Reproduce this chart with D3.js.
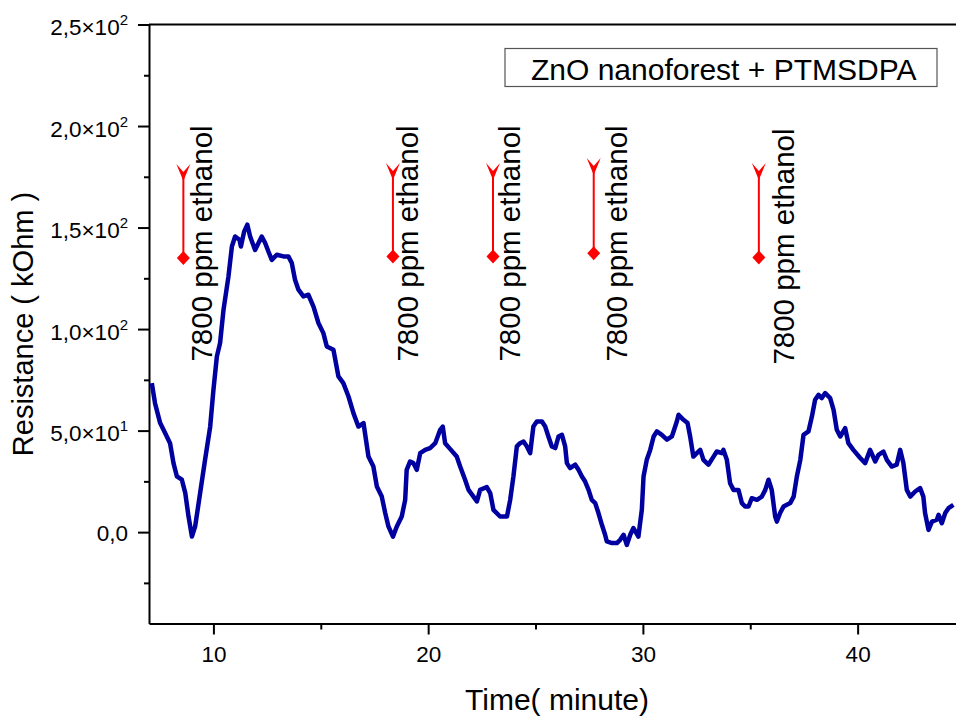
<!DOCTYPE html>
<html>
<head>
<meta charset="utf-8">
<script src="https://cdn.jsdelivr.net/npm/d3@7"></script>
<style>
  body { margin: 0; background: #fff; }
  text { font-family: "Liberation Sans", Arial, sans-serif; fill: #000; }
</style>
</head>
<body>
<div id="chart"></div>
<script>
// resistance trace (time in minutes, resistance in kOhm)
const time = [
  7.13, 7.28, 7.52, 7.75, 7.98, 8.14, 8.30, 8.53, 8.69, 8.84, 9.00, 9.15, 9.38, 9.61, 9.85,
  10.00, 10.16, 10.31, 10.47, 10.70, 10.86, 11.01, 11.21, 11.28, 11.43, 11.58, 11.71, 11.94,
  12.10, 12.25, 12.41, 12.56, 12.72, 12.95, 13.26, 13.49, 13.65, 13.80, 13.96, 14.19, 14.42,
  14.66, 14.89, 15.12, 15.28, 15.59, 15.82, 16.05, 16.29, 16.52, 16.75, 16.99, 17.22, 17.45,
  17.61, 17.84, 18.00, 18.15, 18.36, 18.54, 18.77, 18.93, 19.00, 19.16, 19.31, 19.47, 19.63,
  19.86, 20.09, 20.33, 20.56, 20.68, 20.79, 21.02, 21.33, 21.49, 21.72, 21.88, 22.11, 22.27,
  22.42, 22.73, 22.89, 23.04, 23.35, 23.67, 23.82, 23.97, 24.13, 24.28, 24.44, 24.60, 24.75,
  24.90, 25.06, 25.30, 25.45, 25.60, 25.76, 25.92, 26.07, 26.23, 26.38, 26.46, 26.61, 26.85,
  27.00, 27.16, 27.31, 27.47, 27.62, 27.78, 27.93, 28.09, 28.24, 28.32, 28.56, 28.79, 28.94,
  29.10, 29.25, 29.41, 29.56, 29.79, 29.95, 30.03, 30.18, 30.34, 30.50, 30.65, 30.88, 31.12,
  31.35, 31.58, 31.66, 31.89, 32.08, 32.20, 32.35, 32.51, 32.67, 32.82, 33.05, 33.29, 33.44,
  33.68, 33.75, 33.91, 34.06, 34.22, 34.45, 34.61, 34.76, 34.92, 35.07, 35.31, 35.54, 35.70,
  35.85, 36.00, 36.16, 36.24, 36.39, 36.55, 36.86, 37.02, 37.17, 37.33, 37.48, 37.71, 37.87,
  38.02, 38.18, 38.33, 38.49, 38.72, 38.88, 39.03, 39.19, 39.42, 39.57, 39.80, 40.12, 40.35,
  40.58, 40.82, 40.97, 41.20, 41.36, 41.59, 41.82, 41.98, 42.13, 42.29, 42.45, 42.68, 42.91,
  43.06, 43.14, 43.30, 43.46, 43.69, 43.77, 43.92, 44.08, 44.23, 44.46
];
const resistance = [
  73.4, 63.5, 53.7, 48.8, 43.8, 34.0, 27.4, 25.8, 19.2, 7.7, -2.2, 2.8, 19.2, 35.6, 52.0,
  70.0, 86.5, 93.1, 109.5, 125.9, 140.7, 145.6, 144.0, 140.7, 148.0, 151.4, 145.6, 139.0,
  142.4, 145.6, 142.4, 138.2, 134.1, 136.6, 135.8, 135.8, 132.5, 124.3, 119.4, 116.1, 116.9,
  111.1, 103.0, 98.0, 91.4, 89.8, 76.7, 73.4, 66.8, 58.6, 52.0, 53.7, 37.2, 32.3,
  22.5, 17.5, 9.4, 2.8, -2.2, 2.8, 7.7, 15.9, 30.7, 34.8, 34.0, 30.7, 38.9,
  40.5, 41.4, 43.8, 50.4, 52.0, 43.8, 41.0, 37.2, 32.3, 25.8, 20.8, 17.5, 15.1,
  20.8, 22.2, 19.2, 11.0, 7.7, 7.7, 15.9, 27.4, 42.2, 43.8, 44.6, 42.2, 38.9,
  52.0, 54.5, 54.5, 52.0, 47.1, 42.2, 41.4, 47.1, 47.9, 42.2, 34.0, 31.5, 33.2,
  30.7, 27.4, 24.9, 20.8, 15.9, 14.3, 9.4, 3.6, -1.3, -4.6, -5.4, -5.4, -3.8,
  -1.3, -6.3, -1.3, 2.0, -2.2, 11.0, 27.4, 35.6, 40.5, 47.1, 49.6, 47.9, 45.5,
  47.1, 54.5, 57.8, 55.3, 53.7, 47.1, 37.2, 38.9, 40.5, 35.6, 33.2, 37.2, 39.7,
  38.9, 40.5, 35.6, 24.1, 20.8, 20.8, 14.3, 12.6, 12.6, 16.7, 15.9, 17.5, 20.8,
  25.8, 20.8, 7.7, 5.2, 9.4, 12.6, 14.3, 17.5, 27.4, 35.6, 47.9, 49.6, 56.9,
  65.2, 67.6, 66.0, 68.5, 66.0, 60.2, 50.4, 47.1, 51.2, 43.8, 40.5, 36.5, 34.0,
  40.5, 34.8, 38.1, 39.7, 35.6, 32.3, 33.2, 40.5, 34.0, 20.8, 17.5, 20.0, 21.7,
  17.5, 9.4, 1.1, 5.2, 6.1, 8.5, 4.4, 9.4, 11.8, 13.4
];

// gas injection markers: arrow time, arrow top / bottom value, label time, label start value
const arrowTime = [8.60, 18.36, 23.02, 27.71, 35.40];
const arrowTop = [181.3, 181.8, 181.8, 184.2, 181.8];
const arrowEnd = [135.0, 135.8, 135.8, 137.4, 135.3];
const labelTime = [9.93, 19.55, 24.29, 29.26, 37.03];
const labelValue = [84, 84, 84, 84, 82.5];
const labelText = "7800 ppm ethanol";

// axis ticks
const xTicks = [10, 20, 30, 40];
const xMinorTicks = [15, 25, 35];
const yTicks = [0, 50, 100, 150, 200, 250];
const yMinorTicks = [-25, 25, 75, 125, 175, 225];
const yTickLabels = [["0,0", ""], ["5,0×10", "1"], ["1,0×10", "2"], ["1,5×10", "2"], ["2,0×10", "2"], ["2,5×10", "2"]];

const legendText = "ZnO nanoforest + PTMSDPA";
const xTitle = "Time( minute)";
const yTitle = "Resistance ( kOhm )";

// set the dimensions of the chart
const width = 956;
const height = 718;

const svg = d3.select("#chart")
  .append("svg")
  .attr("width", width)
  .attr("height", height);

const xScale = d3.scaleLinear()
  .domain([7, 45])
  .range([149, 965]);

const yScale = d3.scaleLinear()
  .domain([-45, 250])
  .range([623.5, 24.5]);

// axes
const xAxis = svg.append("g")
  .attr("transform", `translate(0, ${yScale(-45)})`)
  .call(d3.axisBottom(xScale).tickValues(xTicks).tickSize(11).tickSizeOuter(0).tickPadding(12));

svg.append("g")
  .attr("transform", `translate(0, ${yScale(-45)})`)
  .call(d3.axisBottom(xScale).tickValues(xMinorTicks).tickSize(6).tickSizeOuter(0).tickFormat(""))
  .select(".domain").remove();

const yAxis = svg.append("g")
  .attr("transform", `translate(${xScale(7)}, 0)`)
  .call(d3.axisLeft(yScale).tickValues(yTicks).tickSize(11).tickSizeOuter(0).tickFormat(""));

svg.append("g")
  .attr("transform", `translate(${xScale(7)}, 0)`)
  .call(d3.axisLeft(yScale).tickValues(yMinorTicks).tickSize(5).tickSizeOuter(0).tickFormat(""))
  .select(".domain").remove();

svg.selectAll(".domain, .tick line")
  .attr("stroke", "#000")
  .attr("stroke-width", 2);

xAxis.selectAll(".tick text")
  .style("font-size", "22.5px")
  .attr("fill", "#000");

// y tick labels with superscript exponent
yAxis.selectAll(".tick").each(function(d, i) {
  const lab = yTickLabels[i];
  const t = d3.select(this).append("text")
    .attr("x", -21)
    .attr("y", lab[1] ? 10 : 8)
    .attr("text-anchor", "end")
    .style("font-size", "22.5px")
    .text(lab[0]);
  if (lab[1]) {
    t.append("tspan")
      .attr("dy", -10)
      .style("font-size", "15px")
      .text(lab[1]);
  }
});

// top frame line
svg.append("line")
  .attr("x1", xScale(7))
  .attr("x2", width)
  .attr("y1", yScale(250))
  .attr("y2", yScale(250))
  .attr("stroke", "#000")
  .attr("stroke-width", 2);

// data line
const lineGenerator = d3.line()
  .x((d, i) => xScale(time[i]))
  .y(d => yScale(d));

svg.append("path")
  .datum(resistance)
  .attr("fill", "none")
  .attr("stroke", "#0000a0")
  .attr("stroke-width", 4.5)
  .attr("stroke-linejoin", "round")
  .attr("d", lineGenerator);

// red arrows with diamond ends
const marks = svg.append("g").selectAll("g")
  .data(arrowTime)
  .enter()
  .append("g");

marks.append("line")
  .attr("x1", d => xScale(d))
  .attr("x2", d => xScale(d))
  .attr("y1", (d, i) => yScale(arrowTop[i]) + 10)
  .attr("y2", (d, i) => yScale(arrowEnd[i]))
  .attr("stroke", "#ff0000")
  .attr("stroke-width", 2);

marks.append("path")
  .attr("fill", "#ff0000")
  .attr("d", (d, i) => {
    const x = xScale(d), y = yScale(arrowTop[i]);
    return `M${x - 7},${y} L${x},${y + 8} L${x + 7},${y} L${x},${y + 17} Z`;
  });

marks.append("path")
  .attr("fill", "#ff0000")
  .attr("d", (d, i) => {
    const x = xScale(d), y = yScale(arrowEnd[i]);
    return `M${x},${y - 7} L${x + 6.5},${y} L${x},${y + 7} L${x - 6.5},${y} Z`;
  });

svg.append("g").selectAll("text")
  .data(labelTime)
  .enter()
  .append("text")
  .attr("transform", (d, i) => `translate(${xScale(d)}, ${yScale(labelValue[i])}) rotate(-90)`)
  .style("font-size", "29.5px")
  .text(labelText);

// legend box
svg.append("rect")
  .attr("x", 505)
  .attr("y", 48.5)
  .attr("width", 432)
  .attr("height", 38)
  .attr("fill", "#fff")
  .attr("stroke", "#555")
  .attr("stroke-width", 1.2);

svg.append("text")
  .attr("x", 531)
  .attr("y", 80)
  .style("font-size", "30px")
  .text(legendText);

// axis titles
svg.append("text")
  .attr("x", (xScale(7) + xScale(45)) / 2)
  .attr("y", 710)
  .attr("text-anchor", "middle")
  .style("font-size", "30px")
  .text(xTitle);

svg.append("text")
  .attr("transform", `translate(33, 324) rotate(-90)`)
  .attr("text-anchor", "middle")
  .style("font-size", "29px")
  .text(yTitle);
</script>
</body>
</html>
